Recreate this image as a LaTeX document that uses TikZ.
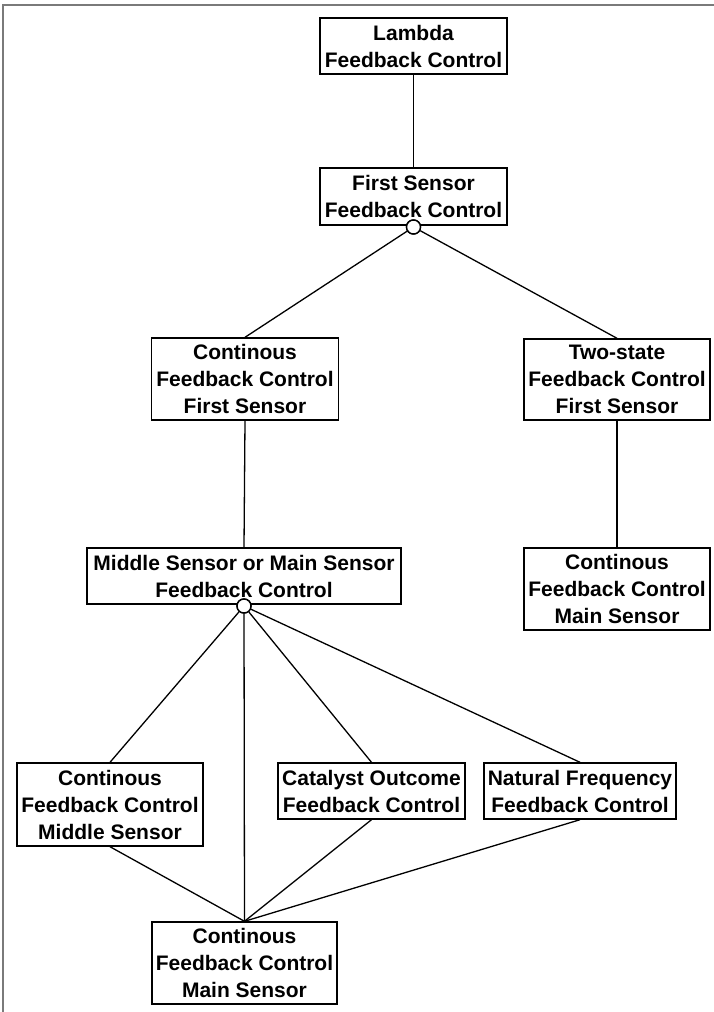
\documentclass[tikz,border=0pt]{standalone}
\usepackage{fontspec}
\setmainfont{Liberation Sans}
\begin{document}
\begin{tikzpicture}[x=1pt,y=-1pt,
  box/.style={draw, line width=1.4pt, fill=white, inner sep=0pt, align=center,
    font=\bfseries\fontsize{21}{27}\selectfont},
  joint/.style={circle, draw, line width=1.4pt, fill=white, inner sep=0pt, minimum size=14pt},
  link/.style={line width=1.3pt},
  frame/.style={line width=2pt, draw=black!52}
]
\useasboundingbox (0,0) rectangle (714,1012);
% page frame (top and left edges)
\draw[frame] (714,5) -- (3,5) -- (3,1012);

% feature boxes
\node[box, minimum width=187pt, minimum height=56pt] (lam) at (413.5,46) {Lambda\\Feedback Control};
\node[box, minimum width=187pt, minimum height=57pt] (fs) at (413.5,196.5) {First Sensor\\Feedback Control};
\node[box, minimum width=187pt, minimum height=82pt] (cfs) at (245,379) {Continous\\Feedback Control\\First Sensor};
\node[box, minimum width=186pt, minimum height=81pt] (ts) at (617,379.5) {Two-state\\Feedback Control\\First Sensor};
\node[box, minimum width=186pt, minimum height=82pt] (cms) at (617,589) {Continous\\Feedback Control\\Main Sensor};
\node[box, minimum width=314pt, minimum height=56pt] (mid) at (244,576) {Middle Sensor or Main Sensor\\Feedback Control};
\node[box, minimum width=186pt, minimum height=83pt] (cmid) at (110,804.5) {Continous\\Feedback Control\\Middle Sensor};
\node[box, minimum width=187pt, minimum height=56pt] (cat) at (371.5,791) {Catalyst Outcome\\Feedback Control};
\node[box, minimum width=192pt, minimum height=56pt] (nat) at (580,791) {Natural Frequency\\Feedback Control};
\node[box, minimum width=185pt, minimum height=82pt] (cmain) at (244.5,963) {Continous\\Feedback Control\\Main Sensor};

% alternative-group joints
\node[joint] (j1) at (413.5,227) {};
\node[joint] (j2) at (244,606) {};

% connectors
\draw[link] (lam.south) -- (fs.north);
\draw[link] (j1) -- (cfs.north);
\draw[link] (j1) -- (ts.north);
\draw[link] (cfs.south) -- (mid.north);
\draw[link] (ts.south) -- (cms.north);
\draw[link] (j2) -- (cmid.north);
\draw[link] (j2) -- (cmain.north);
\draw[link] (j2) -- (cat.north);
\draw[link] (j2) -- (nat.north);
\draw[link] (cmid.south) -- (cmain.north);
\draw[link] (cat.south) -- (cmain.north);
\draw[link] (nat.south) -- (cmain.north);

% redraw joints above the connector ends
\node[joint] at (j1) {};
\node[joint] at (j2) {};
\end{tikzpicture}
\end{document}
